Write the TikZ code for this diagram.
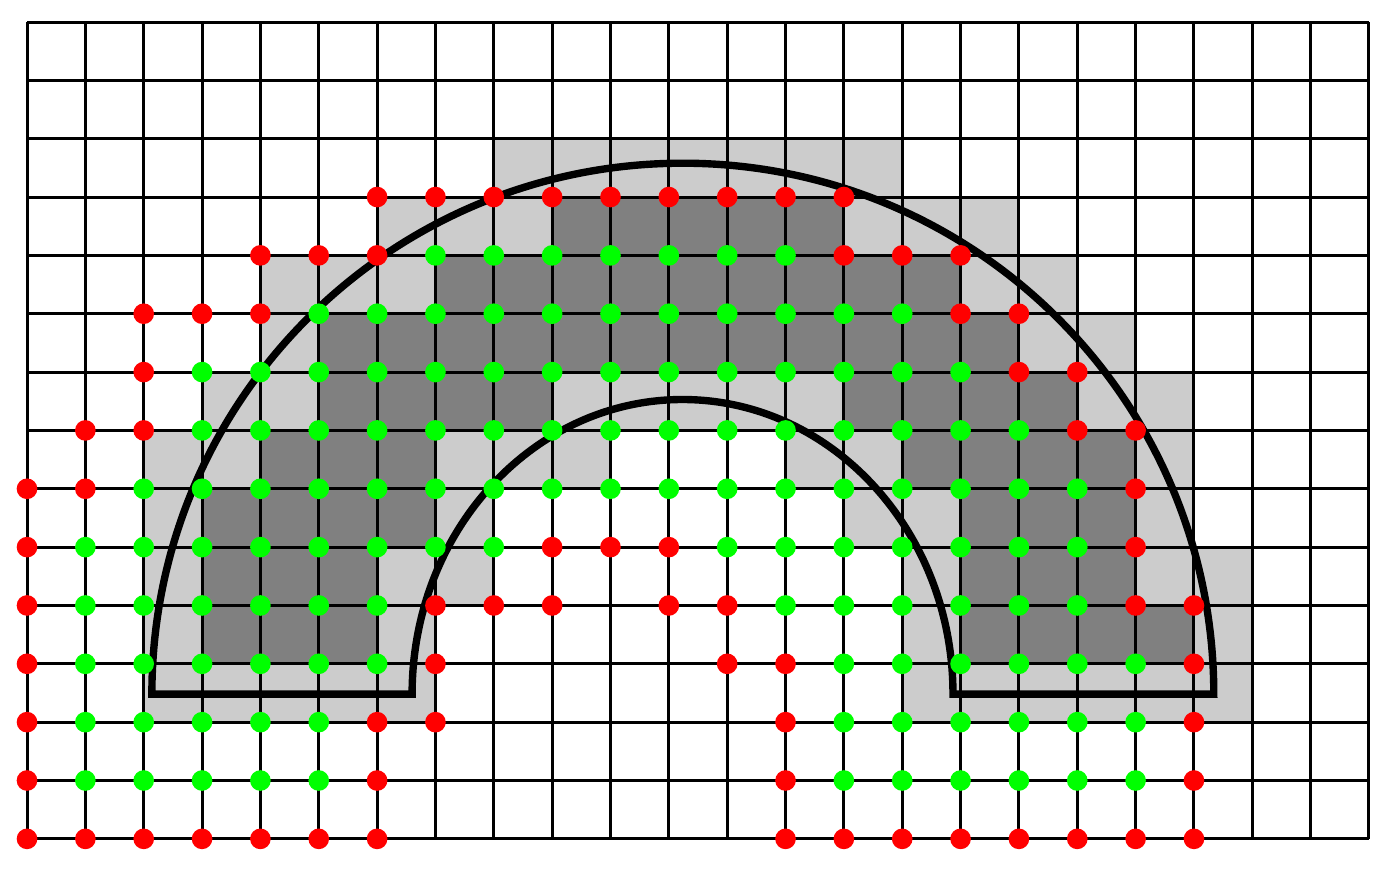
\documentclass[tikz,border=0pt]{standalone}
\definecolor{lightcell}{RGB}{204,204,204}
\definecolor{darkcell}{RGB}{128,128,128}
\definecolor{dotred}{RGB}{255,0,0}
\definecolor{dotgreen}{RGB}{0,255,0}
\tikzset{
  gridline/.style={line width=1.45pt, black},
  outline/.style={line width=3.6pt, black, line join=miter},
  reddot/.style={fill=dotred},
  greendot/.style={fill=dotgreen},
}
\begin{document}
\begin{tikzpicture}[x=1cm,y=1cm]
\useasboundingbox (-0.463,-0.805) rectangle (23.326,14.377);
% light gray cells
\foreach \a/\b/\j in {8/15/11,
  6/9/10, 14/17/10,
  4/7/9, 16/18/9,
  4/5/8, 17/19/8,
  3/5/7, 9/14/7, 18/20/7,
  2/4/6, 7/10/6, 13/15/6, 19/20/6,
  2/3/5, 7/8/5, 14/16/5, 19/20/5,
  2/3/4, 6/8/4, 15/16/4, 19/21/4,
  2/3/3, 6/7/3, 15/16/3, 20/21/3,
  2/7/2, 15/21/2}
  \fill[lightcell] (\a,\j) rectangle (\b,\j+1);
% dark gray cells
\foreach \a/\b/\j in {9/14/10,
  7/16/9,
  5/17/8,
  5/9/7, 14/18/7,
  4/7/6, 15/19/6,
  3/7/5, 16/19/5,
  3/6/4, 16/19/4,
  3/6/3, 16/20/3}
  \fill[darkcell] (\a,\j) rectangle (\b,\j+1);
% grid
\draw[gridline] (0,0) grid (23,14);
% outline of the shape
\draw[outline] (2.14,2.48) arc[start angle=180, end angle=0, radius=9.1]
  -- (15.87,2.48) arc[start angle=0, end angle=180, x radius=4.635, y radius=5.05]
  -- cycle;
% red dots
\foreach \i/\j in {6/11,7/11,8/11,9/11,10/11,11/11,12/11,13/11,14/11,
  4/10,5/10,6/10,14/10,15/10,16/10,
  2/9,3/9,4/9,16/9,17/9,
  2/8,17/8,18/8,
  1/7,2/7,18/7,19/7,
  0/6,1/6,19/6,
  0/5,9/5,10/5,11/5,19/5,
  0/4,7/4,8/4,9/4,11/4,12/4,19/4,20/4,
  0/3,7/3,12/3,13/3,20/3,
  0/2,6/2,7/2,13/2,20/2,
  0/1,6/1,13/1,20/1,
  0/0,1/0,2/0,3/0,4/0,5/0,6/0,13/0,14/0,15/0,16/0,17/0,18/0,19/0,20/0}
  \fill[reddot] (\i,\j) circle[radius=0.177];
% green dots
\foreach \i/\j in {7/10,8/10,9/10,10/10,11/10,12/10,13/10,
  5/9,6/9,7/9,8/9,9/9,10/9,11/9,12/9,13/9,14/9,15/9,
  3/8,4/8,5/8,6/8,7/8,8/8,9/8,10/8,11/8,12/8,13/8,14/8,15/8,16/8,
  3/7,4/7,5/7,6/7,7/7,8/7,9/7,10/7,11/7,12/7,13/7,14/7,15/7,16/7,17/7,
  2/6,3/6,4/6,5/6,6/6,7/6,8/6,9/6,10/6,11/6,12/6,13/6,14/6,15/6,16/6,17/6,18/6,
  1/5,2/5,3/5,4/5,5/5,6/5,7/5,8/5,12/5,13/5,14/5,15/5,16/5,17/5,18/5,
  1/4,2/4,3/4,4/4,5/4,6/4,13/4,14/4,15/4,16/4,17/4,18/4,
  1/3,2/3,3/3,4/3,5/3,6/3,14/3,15/3,16/3,17/3,18/3,19/3,
  1/2,2/2,3/2,4/2,5/2,14/2,15/2,16/2,17/2,18/2,19/2,
  1/1,2/1,3/1,4/1,5/1,14/1,15/1,16/1,17/1,18/1,19/1}
  \fill[greendot] (\i,\j) circle[radius=0.177];
\end{tikzpicture}
\end{document}
